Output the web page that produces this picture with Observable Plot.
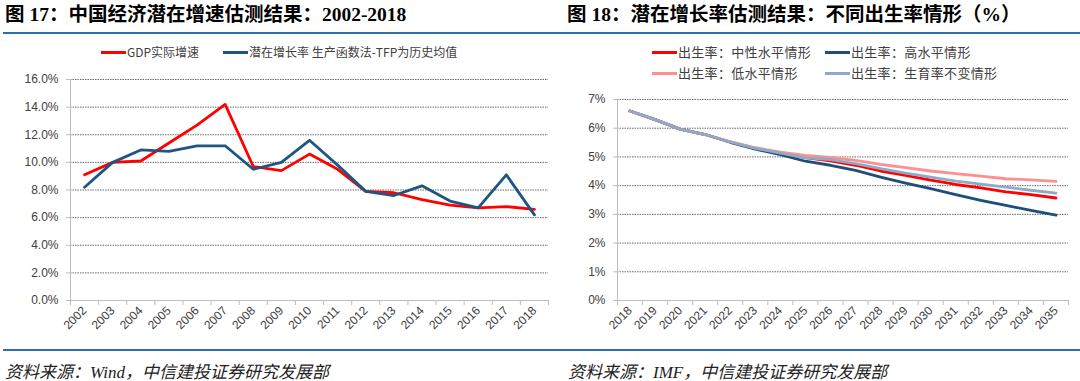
<!DOCTYPE html>
<html><head><meta charset="utf-8">
<script src="https://cdn.jsdelivr.net/npm/d3@7"></script>
<script src="https://cdn.jsdelivr.net/npm/@observablehq/plot@0.6"></script>
<style>
body{margin:0;background:#fff;width:1080px;height:381px;overflow:hidden;position:relative;font-family:"Liberation Sans","Noto Sans CJK SC",sans-serif;}
.abs{position:absolute;white-space:nowrap;}
.title{font-family:"Liberation Serif","Noto Sans CJK SC",serif;font-weight:bold;font-size:19.5px;color:#000;line-height:20px;}
.rule{position:absolute;height:2px;background:#2f6fae;}
.cap{font-family:"Liberation Serif","Noto Sans CJK SC",serif;font-style:italic;font-size:17px;color:#222;line-height:18px;}
.leg{font-family:"Noto Sans CJK SC",sans-serif;color:#404040;line-height:14px;display:flex;align-items:center;}
.leg .sw{display:inline-block;width:25px;height:3px;margin-right:1px;}
.legL{font-size:12px;}
.legR{font-size:13px;letter-spacing:0.3px;}
.chart{position:absolute;}
</style>
</head><body>
<div class="abs title" style="left:5px;top:5px;">图 17：中国经济潜在增速估测结果：2002-2018</div>
<div class="abs title" style="left:567px;top:5px;">图 18：潜在增长率估测结果：不同出生率情形（%）</div>
<div class="rule" style="left:3px;top:32px;width:1077px;"></div>
<div class="rule" style="left:3px;top:349px;width:1077px;"></div>
<div id="legL"></div>
<div id="legR"></div>
<div id="chartL" class="chart" style="left:0;top:70px;"></div>
<div id="chartR" class="chart" style="left:540px;top:90px;"></div>
<div class="abs cap" style="left:5px;top:364px;">资料来源：Wind，中信建投证券研究发展部</div>
<div class="abs cap" style="left:568px;top:364px;">资料来源：IMF，中信建投证券研究发展部</div>
<script>
// ---------- Data: left chart ----------
const yearsL = [2002,2003,2004,2005,2006,2007,2008,2009,2010,2011,2012,2013,2014,2015,2016,2017,2018];
const seriesL = ["GDP实际增速", "潜在增长率 生产函数法-TFP为历史均值"];
const gdpActual    = [9.1,10.0,10.1,11.4,12.7,14.2,9.7,9.4,10.6,9.5,7.9,7.8,7.3,6.9,6.7,6.8,6.6];
const potentialTFP = [8.2,10.0,10.9,10.8,11.2,11.2,9.5,10.0,11.6,9.8,7.9,7.6,8.3,7.2,6.7,9.1,6.2];
const yTicksL = [0,2,4,6,8,10,12,14,16];
const colorsL = ["#ff0000", "#1f5582"];

// ---------- Data: right chart ----------
const yearsR = [2018,2019,2020,2021,2022,2023,2024,2025,2026,2027,2028,2029,2030,2031,2032,2033,2034,2035];
const seriesR = ["出生率：中性水平情形", "出生率：高水平情形", "出生率：低水平情形", "出生率：生育率不变情形"];
const birthMid   = [6.6,6.3,5.97,5.78,5.52,5.30,5.13,4.98,4.86,4.71,4.51,4.36,4.19,4.04,3.92,3.78,3.69,3.57];
const birthHigh  = [6.6,6.3,5.97,5.78,5.51,5.27,5.08,4.85,4.71,4.53,4.30,4.09,3.90,3.69,3.49,3.31,3.14,2.97];
const birthLow   = [6.6,6.3,5.97,5.78,5.53,5.32,5.17,5.05,4.98,4.88,4.74,4.63,4.51,4.42,4.33,4.24,4.20,4.15];
const birthConst = [6.6,6.3,5.97,5.78,5.52,5.30,5.13,4.97,4.91,4.77,4.59,4.44,4.30,4.16,4.05,3.95,3.84,3.74];
const yTicksR = [0,1,2,3,4,5,6,7];
const colorsR = ["#ff0000", "#1f4e79", "#ff8f8f", "#8eaac8"];

// ---------- Legends ----------
function legend(id, cls, items) {
  const host = document.getElementById(id);
  items.forEach(it => {
    const d = document.createElement("div");
    d.className = "abs leg " + cls;
    d.style.left = it.x + "px";
    d.style.top = (it.y - 7) + "px";
    d.innerHTML = `<span class="sw" style="background:${it.color}"></span><span>${it.label}</span>`;
    host.appendChild(d);
  });
}
legend("legL", "legL", [
  {label: seriesL[0], color: colorsL[0], x: 101, y: 52},
  {label: seriesL[1], color: colorsL[1], x: 223, y: 52}
]);
legend("legR", "legR", [
  {label: seriesR[0], color: colorsR[0], x: 652, y: 52},
  {label: seriesR[1], color: colorsR[1], x: 825, y: 52},
  {label: seriesR[2], color: colorsR[2], x: 652, y: 73},
  {label: seriesR[3], color: colorsR[3], x: 825, y: 73}
]);

// ---------- Build long tables ----------
const dataL = [];
[gdpActual, potentialTFP].forEach((arr, k) => arr.forEach((v, i) => dataL.push({year: yearsL[i], value: v, series: seriesL[k]})));
const dataR = [];
[birthMid, birthHigh, birthLow, birthConst].forEach((arr, k) => arr.forEach((v, i) => dataR.push({year: yearsR[i], value: v, series: seriesR[k]})));

const boundsL = yearsL.map(y => y - 0.5).concat([yearsL[yearsL.length - 1] + 0.5]);
const boundsR = yearsR.map(y => y - 0.5).concat([yearsR[yearsR.length - 1] + 0.5]);

const axisStyle = {fontFamily: "'Liberation Sans', Arial, sans-serif", fontSize: "12px", color: "#404040", background: "transparent", overflow: "visible"};
const gridStroke = "#6b6b6b";
const axisStroke = "#bdbdbd";

const chartL = Plot.plot({
  width: 548, height: 275,
  marginTop: 9, marginBottom: 45, marginLeft: 70, marginRight: 0,
  style: axisStyle,
  x: {domain: [boundsL[0], boundsL[boundsL.length - 1]]},
  y: {domain: [0, 16]},
  color: {domain: seriesL, range: colorsL},
  marks: [
    Plot.ruleY(yTicksL.filter(d => d > 0), {stroke: gridStroke, strokeDasharray: "1.5,1", strokeWidth: 1}),
    Plot.ruleX([boundsL[0]], {stroke: axisStroke, strokeWidth: 1}),
    Plot.ruleY([0], {stroke: axisStroke, strokeWidth: 1}),
    Plot.axisY({ticks: yTicksL, tickSize: 4, tickPadding: 8, stroke: axisStroke, fill: "#404040", tickFormat: d => d.toFixed(1) + "%", label: null}),
    Plot.axisX({ticks: yearsL, tickSize: 0, tickPadding: 8, tickRotate: -45, fill: "#404040", tickFormat: d => String(d), label: null}),
    Plot.axisX({ticks: boundsL, tickSize: 5, stroke: axisStroke, tickFormat: () => "", label: null}),
    Plot.line(dataL, {x: "year", y: "value", z: "series", stroke: "series", strokeWidth: 2.8})
  ]
});
document.getElementById("chartL").appendChild(chartL);

const chartR = Plot.plot({
  width: 540, height: 255,
  marginTop: 9, marginBottom: 45, marginLeft: 77, marginRight: 12,
  style: axisStyle,
  x: {domain: [boundsR[0], boundsR[boundsR.length - 1]]},
  y: {domain: [0, 7]},
  color: {domain: seriesR, range: colorsR},
  marks: [
    Plot.ruleY(yTicksR.filter(d => d > 0), {stroke: gridStroke, strokeDasharray: "1.5,1", strokeWidth: 1}),
    Plot.ruleX([boundsR[0]], {stroke: axisStroke, strokeWidth: 1}),
    Plot.ruleY([0], {stroke: axisStroke, strokeWidth: 1}),
    Plot.axisY({ticks: yTicksR, tickSize: 4, tickPadding: 8, stroke: axisStroke, fill: "#404040", tickFormat: d => d + "%", label: null}),
    Plot.axisX({ticks: yearsR, tickSize: 0, tickPadding: 8, tickRotate: -45, fill: "#404040", tickFormat: d => String(d), label: null}),
    Plot.axisX({ticks: boundsR, tickSize: 5, stroke: axisStroke, tickFormat: () => "", label: null}),
    Plot.line(dataR, {x: "year", y: "value", z: "series", stroke: "series", strokeWidth: 2.8})
  ]
});
document.getElementById("chartR").appendChild(chartR);
</script>
</body></html>
